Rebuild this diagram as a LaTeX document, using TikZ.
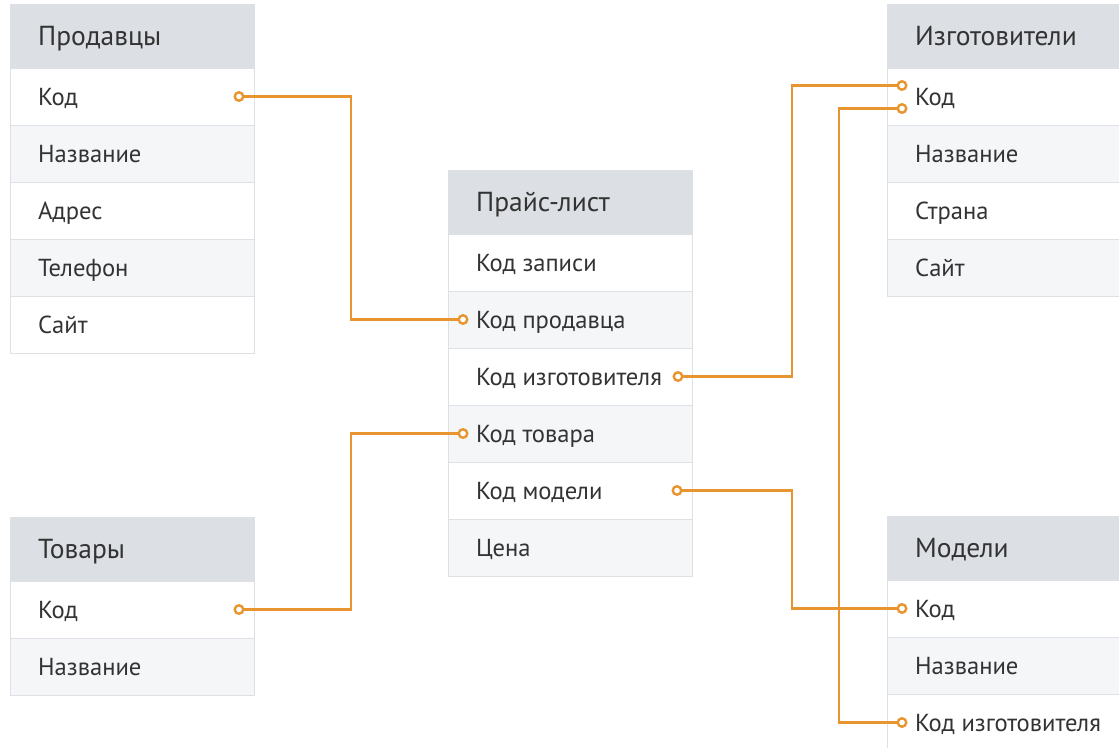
\documentclass[tikz,border=0pt]{standalone}
\usepackage{fontspec}
\setmainfont{PT Sans}
\usetikzlibrary{positioning}
\definecolor{hdrgray}{HTML}{DCDFE3}
\definecolor{zebra}{HTML}{F4F6F8}
\definecolor{rulegray}{HTML}{DDE0E4}
\definecolor{ink}{HTML}{333333}
\definecolor{linkorange}{HTML}{E8952F}
\newcommand{\entity}[4]{
  \node [head] (#1) at (#2) {};
  \node [title, right = 28pt of #1.west] (#1t) {#3};
  \foreach \txt [count = \i] in {#4} {
    \ifodd\i\relax \def\bg{white}\else \def\bg{zebra}\fi
    \node [row = \bg, yshift = {-(\i-1)*57pt}] (#1\i) at (#1.south west) {};
    \node [cell, right = 28pt of #1\i.west] (#1t\i) {\txt};
  }}

\begin{document}
\begin{tikzpicture}[x = 1pt, y = -1pt, text = ink,
    head/.style = {draw = rulegray, fill = hdrgray, line width = 1pt,
      inner sep = 0pt, outer sep = 0pt, anchor = north west,
      minimum width = 244pt, minimum height = 64pt},
    row/.style = {head, fill = #1, minimum height = 57pt},
    cell/.style = {inner sep = 0pt, anchor = west,
      font = \fontsize{24.6}{28}\selectfont,
      text height = 17.2pt, text depth = 0pt},
    title/.style = {cell, font = \fontsize{27.5}{32}\selectfont,
      text height = 19.2pt},
    port/.style = {circle, draw = linkorange, fill = white,
      line width = 2.4pt, minimum size = 8.5pt, inner sep = 0pt},
    link/.style = {draw = linkorange, line width = 2.8pt}]
    \fill [white] (0,0) rectangle (1119,747);
    \useasboundingbox (0,0) rectangle (1119,747);

    \entity{pr}{10,4}{Продавцы}{Код, Название, Адрес, Телефон, Сайт}
    \entity{pl}{448,170}{Прайс-лист}{Код записи, Код продавца,
      Код изготовителя, Код товара, Код модели, Цена}
    \entity{izg}{887,4}{Изготовители}{Код, Название, Страна, Сайт}
    \entity{tov}{10,517}{Товары}{Код, Название}
    \entity{mod}{887,516}{Модели}{Код, Название, Код изготовителя}

    \node [port] (pr1p) at ([xshift = -15pt] pr1.east) {};
    \node [port] (tov1p) at ([xshift = -15pt] tov1.east) {};
    \node [port] (pl2p) at ([xshift = 15pt] pl2.west) {};
    \node [port] (pl3p) at ([xshift = -14pt] pl3.east) {};
    \node [port] (pl4p) at ([xshift = 15pt] pl4.west) {};
    \node [port] (pl5p) at ([xshift = -15pt] pl5.east) {};
    \node [port] (izg1a) at ([xshift = 15pt, yshift = 11pt] izg1.west) {};
    \node [port] (izg1b) at ([xshift = 15pt, yshift = -12pt] izg1.west) {};
    \node [port] (mod1p) at ([xshift = 15pt] mod1.west) {};
    \node [port] (mod3p) at ([xshift = 15pt] mod3.west) {};

    \coordinate (leftbus) at (351,0);
    \coordinate (midbus) at (792,0);
    \coordinate (farbus) at (839,0);

    \draw [link] (pr1p) -- (pr1p -| leftbus) |- (pl2p);
    \draw [link] (tov1p) -- (tov1p -| leftbus) |- (pl4p);
    \draw [link] (pl3p) -- (pl3p -| midbus) |- (izg1a);
    \draw [link] (pl5p) -- (pl5p -| midbus) |- (mod1p);
    \draw [link] (mod3p) -- (mod3p -| farbus) |- (izg1b);
  \end{tikzpicture}
\end{document}
